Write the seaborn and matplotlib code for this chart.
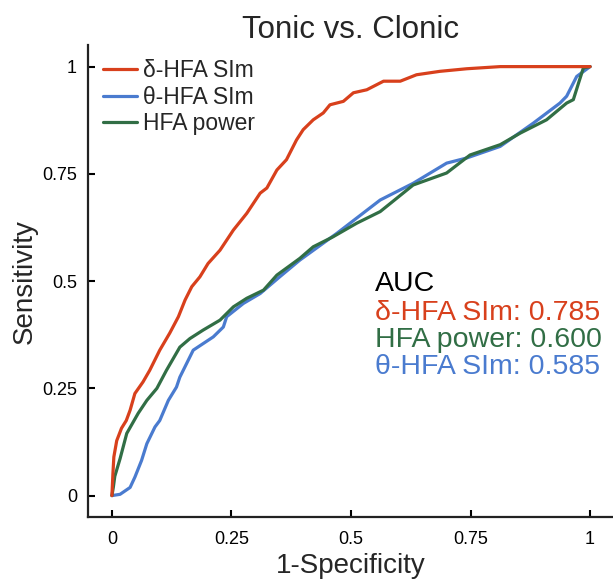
import numpy as np
import pandas as pd
import matplotlib
matplotlib.use("Agg")
import matplotlib.pyplot as plt
import seaborn as sns

# ROC points
delta_fpr = [0, 0.002, 0.004, 0.010, 0.020, 0.030, 0.038, 0.048, 0.065, 0.079, 0.100, 0.121,
             0.139, 0.153, 0.167, 0.184, 0.201, 0.226, 0.254, 0.282, 0.310, 0.324, 0.345,
             0.365, 0.386, 0.400, 0.421, 0.442, 0.456, 0.484, 0.505, 0.533, 0.568, 0.603,
             0.637, 0.686, 0.742, 0.812, 0.900, 1.0]
delta_tpr = [0, 0.050, 0.090, 0.128, 0.157, 0.175, 0.199, 0.238, 0.265, 0.292, 0.339, 0.379,
             0.417, 0.456, 0.487, 0.510, 0.541, 0.572, 0.619, 0.658, 0.705, 0.717, 0.759,
             0.783, 0.829, 0.853, 0.876, 0.892, 0.911, 0.919, 0.939, 0.946, 0.966, 0.966,
             0.981, 0.989, 0.995, 1.0, 1.0, 1.0]

theta_fpr = [0, 0.017, 0.038, 0.048, 0.062, 0.073, 0.090, 0.100, 0.118, 0.135, 0.142, 0.170,
             0.212, 0.233, 0.240, 0.275, 0.310, 0.351, 0.393, 0.470, 0.561, 0.630, 0.700,
             0.742, 0.812, 0.881, 0.937, 0.951, 0.972, 1.0]
theta_tpr = [0, 0.003, 0.019, 0.043, 0.082, 0.121, 0.160, 0.175, 0.222, 0.253, 0.276, 0.339,
             0.370, 0.393, 0.417, 0.448, 0.471, 0.510, 0.549, 0.611, 0.689, 0.728, 0.775,
             0.787, 0.814, 0.868, 0.915, 0.931, 0.977, 1.0]

hfa_fpr = [0, 0.003, 0.006, 0.017, 0.031, 0.055, 0.073, 0.094, 0.114, 0.142, 0.163, 0.191,
           0.226, 0.254, 0.282, 0.317, 0.345, 0.393, 0.421, 0.462, 0.512, 0.561, 0.630,
           0.700, 0.749, 0.812, 0.854, 0.909, 0.951, 0.965, 0.976, 0.986, 1.0]
hfa_tpr = [0, 0.020, 0.045, 0.086, 0.145, 0.192, 0.222, 0.250, 0.292, 0.346, 0.366, 0.386,
           0.409, 0.440, 0.460, 0.479, 0.514, 0.553, 0.580, 0.603, 0.635, 0.662, 0.724,
           0.752, 0.794, 0.818, 0.845, 0.876, 0.915, 0.923, 0.962, 0.997, 1.0]

labels = ["δ-HFA SIm", "θ-HFA SIm", "HFA power"]
auc_vals = {"δ-HFA SIm": 0.785, "HFA power": 0.600, "θ-HFA SIm": 0.585}
colors = {"δ-HFA SIm": "#D8401C", "θ-HFA SIm": "#4A7BCF", "HFA power": "#316E45"}
ticks = [0, 0.25, 0.5, 0.75, 1]
tick_labels = ["0", "0.25", "0.5", "0.75", "1"]

sns.set_style("ticks")
plt.rcParams["font.family"] = ["Liberation Sans", "DejaVu Sans"]

fig = plt.figure(figsize=(6.13, 5.79), dpi=100)
ax = fig.add_axes([0.1436, 0.107, 0.858, 0.815])

curves = {
    "θ-HFA SIm": (theta_fpr, theta_tpr),
    "HFA power": (hfa_fpr, hfa_tpr),
    "δ-HFA SIm": (delta_fpr, delta_tpr),
}
for name, (fx, fy) in curves.items():
    sns.lineplot(x=fx, y=fy, ax=ax, color=colors[name], linewidth=2.3,
                 sort=False, estimator=None, label=name)

handles, labs = ax.get_legend_handles_labels()
order = [labs.index(l) for l in labels]
ax.legend([handles[i] for i in order], [labs[i] for i in order],
          loc="upper left", bbox_to_anchor=(0.028, 0.970), frameon=False,
          fontsize=16.5, handlelength=1.5, handletextpad=0.25,
          labelspacing=0.15, borderpad=0, borderaxespad=0)

ax.set_xlim(-0.05, 1.05)
ax.set_ylim(-0.05, 1.05)
ax.set_xticks(ticks)
ax.set_xticklabels(tick_labels)
ax.set_yticks(ticks)
ax.set_yticklabels(tick_labels)
ax.tick_params(direction="in", length=5, width=1.5, labelsize=13, colors="black", pad=8)
ax.tick_params(axis="x", pad=10)
for side in ["left", "bottom"]:
    ax.spines[side].set_linewidth(1.6)
    ax.spines[side].set_color("#222222")
sns.despine(ax=ax)

ax.set_xlabel("1-Specificity", fontsize=20, labelpad=4)
ax.set_ylabel("Sensitivity", fontsize=20, labelpad=3)
ax.set_title("Tonic vs. Clonic", fontsize=22.5, pad=4)

ax.text(0.546, 0.478, "AUC", transform=ax.transAxes, fontsize=20.5, color="black", va="baseline")
y0 = 0.418
for name in ["δ-HFA SIm", "HFA power", "θ-HFA SIm"]:
    ax.text(0.546, y0, f"{name}: {auc_vals[name]:.3f}", transform=ax.transAxes,
            fontsize=20.5, color=colors[name], va="baseline")
    y0 -= 0.057

fig.savefig("out.png", dpi=100)
